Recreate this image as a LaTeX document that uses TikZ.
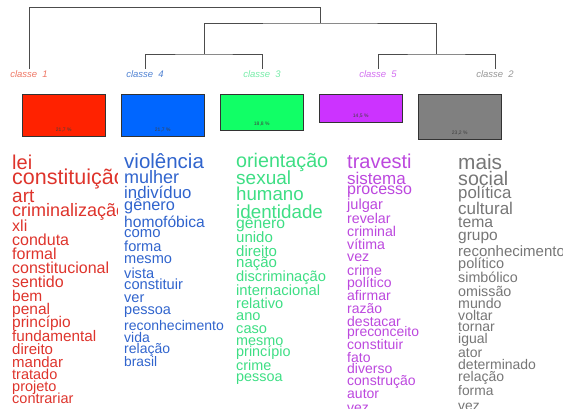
\documentclass[tikz,border=0pt]{standalone}
\usepackage{fontspec}
\setmainfont{Liberation Sans}
\usetikzlibrary{positioning}
\definecolor{cred}{HTML}{FF2200}
\definecolor{cblue}{HTML}{0066FF}
\definecolor{cgreen}{HTML}{11FF66}
\definecolor{cmag}{HTML}{CC33FF}
\definecolor{cgray}{HTML}{808080}
\definecolor{wred}{RGB}{222,52,44}
\definecolor{wblue}{RGB}{48,100,205}
\definecolor{wgreen}{RGB}{62,222,132}
\definecolor{wmag}{RGB}{188,72,222}
\definecolor{wgray}{RGB}{118,118,118}
\definecolor{lred}{RGB}{238,118,100}
\definecolor{lblue}{RGB}{80,130,210}
\definecolor{lgreen}{RGB}{118,236,168}
\definecolor{lmag}{RGB}{210,110,240}
\definecolor{lgray}{RGB}{150,150,150}
\begin{document}
\begin{tikzpicture}[x=1pt,y=-1pt]
			\tikzstyle{tree}=[draw=black!70,line width=0.8pt]
			\tikzstyle{cls}=[font=\fontsize{9.5}{10}\selectfont\itshape,inner sep=1.5pt]
			\tikzstyle{bar}=[draw=black!80,line width=0.5pt,minimum width=83pt,inner sep=0pt,anchor=north west]
			\tikzstyle{pct}=[font=\fontsize{5}{5}\selectfont,text=black!75,inner sep=0pt]
			\tikzstyle{word}=[anchor=base west,inner sep=0pt]
			\useasboundingbox (0,0) rectangle (563,408);
			
			% classes
			\node[cls,text=lred]   (k1) at (29,74)  {classe\ \ 1};
			\node[cls,text=lblue]  (k4) at (145,74) {classe\ \ 4};
			\node[cls,text=lgreen] (k3) at (262,74) {classe\ \ 3};
			\node[cls,text=lmag]   (k5) at (378,74) {classe\ \ 5};
			\node[cls,text=lgray]  (k2) at (495,74) {classe\ \ 2};
			
			% tree
			\coordinate (m0) at (320,7);
			\coordinate (m1) at (320,23);
			\coordinate (m2) at (204,54);
			\coordinate (m3) at (436,54);
			\draw[tree] (k1.north) |- (m0) -- (m1);
			\draw[tree] (m2) |- (m1) -| (m3);
			\draw[tree] (k4.north) |- (m2) -| (k3.north);
			\draw[tree] (k5.north) |- (m3) -| (k2.north);
			
			% bars
			\node[bar,fill=cred,minimum height=42pt]   (b1) at (22,94)  {};
			\node[bar,fill=cblue,minimum height=42pt]  (b4) at (121,94) {};
			\node[bar,fill=cgreen,minimum height=36pt] (b3) at (220,94) {};
			\node[bar,fill=cmag,minimum height=28pt]   (b5) at (319,94) {};
			\node[bar,fill=cgray,minimum height=45pt]  (b2) at (418,94) {};
			\node[pct,above=4pt of b1.south] (p1) {21,7 \%};
			\node[pct,above=4pt of b4.south] (p4) {21,7 \%};
			\node[pct,above=4pt of b3.south] (p3) {18,8 \%};
			\node[pct,above=4pt of b5.south] (p5) {14,5 \%};
			\node[pct,above=4pt of b2.south] (p2) {23,2 \%};
			
			% words
			\begin{scope}
			\clip (0,140) rectangle (117,408);
			\foreach \w/\y/\s [count=\i] in {lei/169/20,constituição/184/21.5,art/202/19,criminalização/216/18,xli/231/16,conduta/245/16,formal/259/16,constitucional/273/16,sentido/287/16,bem/301/15.5,penal/314/15.5,princípio/327/15.5,fundamental/341/15.3,direito/354/15,mandar/367/15,tratado/379/14.5,projeto/391/14.5,contrariar/403/14.5}
			\node[word,text=wred,font=\fontsize{\s}{\s}\selectfont] (r-\i) at (12,\y) {\w};
			\end{scope}
			
			\foreach \w/\y/\s [count=\i] in {violência/168/20.5,mulher/183/18,indivíduo/198/16.8,gênero/210/16.3,homofóbica/227/15.6,como/237/14.9,forma/251/14.6,mesmo/263/14.6,vista/278/14.6,constituir/289/14.7,ver/302/14.5,pessoa/314/14.5,reconhecimento/330/14,vida/342/14,relação/353/14,brasil/366/13.8}
			\node[word,text=wblue,font=\fontsize{\s}{\s}\selectfont] (u-\i) at (124,\y) {\w};
			
			\foreach \w/\y/\s [count=\i] in {orientação/167/19.7,sexual/184/19,humano/200/18.7,identidade/218/18.8,gênero/228/15.7,unido/242/15,direito/256/15,nação/267/15,discriminação/281/14.7,internacional/295/14.8,relativo/308/14.6,ano/320/14.6,caso/333/14.6,mesmo/345/14.4,princípio/356/14.4,crime/370/14.4,pessoa/381/14.4}
			\node[word,text=wgreen,font=\fontsize{\s}{\s}\selectfont] (g-\i) at (236,\y) {\w};
			
			\foreach \w/\y/\s [count=\i] in {travesti/168/20,sistema/184/17,processo/194/16,julgar/209/14.6,revelar/223/14.2,criminal/236/14.2,vítima/249/14.2,vez/261/14.2,crime/275/14.2,político/287/14,afirmar/300/14,razão/313/14,destacar/326/14,preconceito/336/13.9,constituir/349/14,fato/362/14,diverso/373/14,construção/385/14,autor/398/14,vez/412/14}
			\node[word,text=wmag,font=\fontsize{\s}{\s}\selectfont] (v-\i) at (347,\y) {\w};
			
			\foreach \w/\y/\s [count=\i] in {mais/169/20.8,social/185/19.6,política/198/16.8,cultural/214/17,tema/227/15.7,grupo/240/15.5,reconhecimento/256/15,político/268/14.5,simbólico/282/14.3,omissão/296/14.3,mundo/308/14.2,voltar/320/14.1,tornar/331/14,igual/343/14,ator/357/14,determinado/369/14,relação/381/14,forma/395/13.8,vez/410/13.8}
			\node[word,text=wgray,font=\fontsize{\s}{\s}\selectfont] (s-\i) at (458,\y) {\w};
		\end{tikzpicture}
\end{document}
